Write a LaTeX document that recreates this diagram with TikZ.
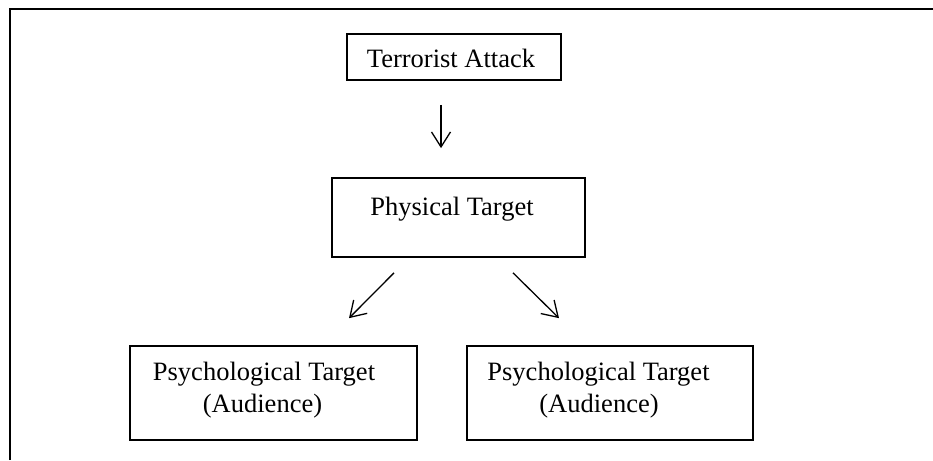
\documentclass[tikz,border=0pt]{standalone}
\usepackage{fontspec}
\setmainfont{Liberation Serif}
\usetikzlibrary{arrows.meta}

\tikzset{
  box/.style={draw=black, line width=1.7pt, rectangle, inner sep=0pt},
  caption/.style={anchor=base, inner sep=0pt, font=\fontsize{26.5}{31}\selectfont},
  arr/.style={line width=1.3pt, -{Straight Barb[length=15pt,width=19pt,line width=1.3pt]}},
  frame/.style={line width=2pt}
}

\begin{document}
\begin{tikzpicture}[x=1pt, y=-1pt]
  \useasboundingbox (0,0) rectangle (933,460);

  % open frame: top edge and left edge only
  \draw[frame] (10.3,460) -- (10.3,9.5) -- (933,9.5);

  % boxes
  \node[box, minimum width=214pt, minimum height=46pt] (attack) at (454,57) {};
  \node[box, minimum width=253pt, minimum height=79pt] (physical) at (458.5,217.5) {};
  \node[box, minimum width=287pt, minimum height=94pt] (psyL) at (273.5,393) {};
  \node[box, minimum width=286pt, minimum height=94pt] (psyR) at (610,393) {};

  % texts
  \node[caption] (attackT) at (451,67.3) {Terrorist Attack};
  \node[caption] (physicalT) at (452,215.5) {Physical Target};
  \node[caption] (psyLa) at (264,380) {Psychological Target};
  \node[caption] (psyLb) at (262.5,412) {(Audience)};
  \node[caption] (psyRa) at (598.5,380) {Psychological Target};
  \node[caption] (psyRb) at (599,412) {(Audience)};

  % connectors
  \draw[arr] ([xshift=-13pt,yshift=-24pt]attack.south) -- ([xshift=-17.5pt,yshift=29pt]physical.north);
  \draw[arr] ([xshift=-64.5pt,yshift=-15pt]physical.south) -- ([xshift=75.5pt,yshift=27pt]psyL.north);
  \draw[arr] ([xshift=54.5pt,yshift=-15pt]physical.south) -- ([xshift=-51pt,yshift=27pt]psyR.north);
\end{tikzpicture}
\end{document}
